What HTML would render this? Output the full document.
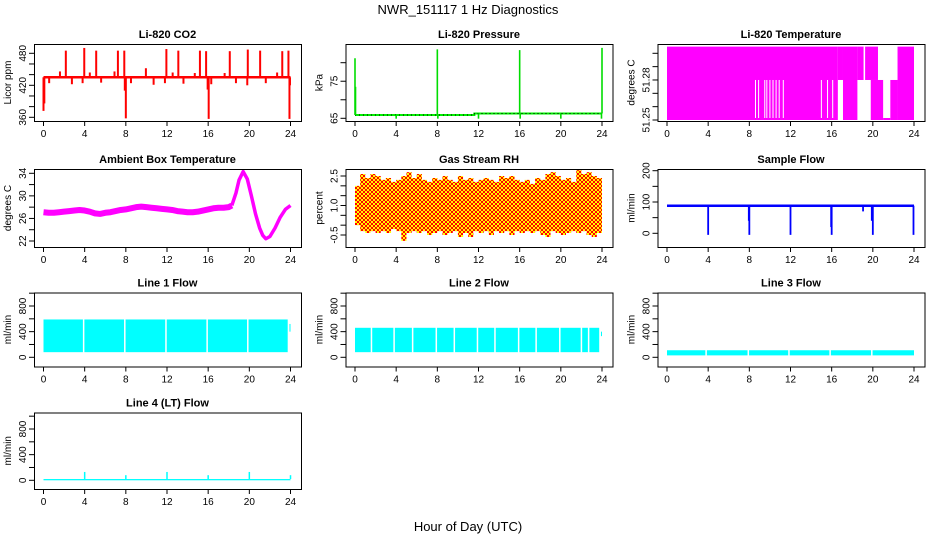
<!DOCTYPE html>
<html><head><meta charset="utf-8">
<style>
html,body{margin:0;padding:0;background:#fff;}
svg{display:block;font-family:"Liberation Sans",sans-serif;}
</style></head>
<body>
<svg id="fig" width="936" height="540" viewBox="0 0 936 540" xmlns="http://www.w3.org/2000/svg">
<defs>
<pattern id="rhpat" width="4" height="4" patternUnits="userSpaceOnUse">
<rect width="4" height="4" fill="#ffff00" shape-rendering="crispEdges"/>
<g fill="#ff0000" shape-rendering="crispEdges">
<rect x="0" y="0" width="1" height="1"/><rect x="3" y="0" width="1" height="1"/>
<rect x="1" y="1" width="1" height="1"/><rect x="2" y="1" width="1" height="1"/>
<rect x="1" y="2" width="1" height="1"/><rect x="2" y="2" width="1" height="1"/>
<rect x="0" y="3" width="1" height="1"/><rect x="3" y="3" width="1" height="1"/>
</g>
</pattern>
</defs>
<text x="468" y="14" text-anchor="middle" font-size="13">NWR_151117  1 Hz Diagnostics</text>
<text x="468" y="531" text-anchor="middle" font-size="13">Hour of Day (UTC)</text>
</svg>
<script>
// ---------- data ----------
const xTicks = [0,4,8,12,16,20,24];
const co2Base = 435;
const co2SpikeHours = [0,0.08,1.6,2.17,3.96,4.5,5.12,6.9,7.23,7.85,8.0,9.95,11.94,12.55,13.1,14.7,15.2,15.8,16.05,17.6,18.1,19.85,21.05,22.7,23.2,23.8,23.9,0.55,2.76,3.8,5.6,7.9,8.5,10.7,11.8,13.6,15.95,16.3,18.7,19.8,21.6,23.95];
const co2SpikeVals  = [372,386,446,485,490,444,485,446,485,485,358,452,488,444,485,443,485,484,357,443,484,487,485,444,484,485,357,424,422,424,425,410,424,421,424,423,412,422,424,420,424,420];
const presHours = [0,0.05,8.0,16.0,24.0,4.0,8.05,12.0,16.05,20.0,23.95];
const presVals  = [81.2,73.5,83.6,83.4,84.0,64.9,64.9,64.9,64.9,64.9,64.9];
const presLevelHours = [0,11.6,11.6,24];
const presLevelVals = [65.9,65.9,66.3,66.3];
const tempSegStart = [0,16.6,17.1,18.5,19.25,19.8,21.0,21.7,22.4];
const tempSegEnd   = [16.6,17.1,18.5,19.1,20.5,21.0,21.7,22.4,24];
const tempSegLo    = [51.25,51.28,51.25,51.28,51.28,51.25,51.25,51.25,51.25];
const tempSegHi    = [51.305,51.305,51.305,51.305,51.305,51.28,51.2515,51.28,51.305];
const tempGapHours = [8.6,8.9,9.5,9.7,10.0,10.3,10.6,10.9,11.3,15.0,15.6,16.1];
const ambHours = [0,0.5,1,1.5,2,2.5,3,3.5,4,4.5,5,5.5,6,6.5,7,7.5,8,8.5,9,9.5,10,10.5,11,11.5,12,12.5,13,13.5,14,14.5,15,15.5,16,16.5,17,17.5,18,18.3,18.7,19,19.4,19.8,20.2,20.6,21,21.3,21.6,22,22.5,23,23.5,24];
const ambVals  = [27.1,27.0,27.0,27.1,27.2,27.3,27.4,27.5,27.4,27.2,26.9,26.8,27.0,27.1,27.3,27.5,27.6,27.8,28.0,28.1,28.0,27.9,27.8,27.7,27.6,27.5,27.3,27.2,27.1,27.1,27.2,27.4,27.6,27.8,27.9,27.9,28.0,28.3,30.5,32.8,34.3,33.0,30.0,26.8,24.3,23.0,22.4,22.8,24.3,26.2,27.6,28.3];
const rhHours = [0,0.5,1,1.5,2,2.5,3,3.5,4,4.5,5,5.5,6,6.5,7,7.5,8,8.5,9,9.5,10,10.5,11,11.5,12,12.5,13,13.5,14,14.5,15,15.5,16,16.5,17,17.5,18,18.5,19,19.5,20,20.5,21,21.5,22,22.5,23,23.5,24];
const rhTop = [2.0,2.6,2.4,2.6,2.5,2.3,2.4,2.2,2.3,2.5,2.7,2.4,2.6,2.3,2.2,2.4,2.3,2.5,2.3,2.2,2.5,2.3,2.4,2.2,2.3,2.4,2.3,2.2,2.5,2.4,2.5,2.3,2.2,2.3,2.1,2.4,2.3,2.6,2.7,2.5,2.3,2.4,2.2,2.8,2.6,2.7,2.5,2.4,1.8];
const rhBot = [0.0,-0.3,-0.4,-0.3,-0.4,-0.3,-0.4,-0.2,-0.3,-0.8,-0.4,-0.3,-0.4,-0.3,-0.5,-0.4,-0.3,-0.5,-0.4,-0.3,-0.6,-0.4,-0.6,-0.3,-0.4,-0.3,-0.5,-0.3,-0.4,-0.3,-0.5,-0.3,-0.4,-0.3,-0.4,-0.3,-0.5,-0.6,-0.3,-0.4,-0.5,-0.4,-0.3,-0.4,-0.3,-0.5,-0.6,-0.4,0.1];
const sfLevel = 88;
const sfDipHours = [4.0,8.0,12.0,16.0,20.0,23.95,7.95,15.95,19.9,19.05];
const sfDipVals  = [-5,-5,-5,-5,-5,-5,40,20,40,70];
const l1Lo = 80, l1Hi = 590;
const l1Gaps = [3.9,7.9,11.9,15.9,19.85,23.8];
const l1EndLo = 400, l1EndHi = 520;
const l2Lo = 80, l2Hi = 460;
const l2Gaps = [1.6,3.8,5.6,7.9,9.65,11.9,13.6,15.9,17.6,19.9,22.0,22.7,23.8];
const l2EndLo = 330, l2EndHi = 400;
const l3Lo = 30, l3Hi = 110;
const l3Gaps = [3.8,7.9,11.85,15.85,19.9];
const l4Lo = 0, l4Hi = 20;
const l4SpikeHours = [4.0,8.0,12.0,16.0,20.0,24.0];
const l4SpikeVals  = [130,80,130,80,130,80];
const flowTicks = [0,200,400,600,800,1000];
const flowLabels = ["0","","400","","800",""];

// ---------- helpers ----------
const svg = document.getElementById('fig');
const NS = 'http://www.w3.org/2000/svg';
function mk(tag, attrs, parent){const e=document.createElementNS(NS,tag);for(const k in attrs)e.setAttribute(k,attrs[k]);(parent||svg).appendChild(e);return e;}
const colL = [34,345.5,657.5];
const rowT = [44,169,292.5,412.5];
const rowB = [121,247,366.5,489];
const W = 267;
function xmap(col){return h=>colL[col]+9.5+h*247/24;}
function lin(v0,p0,v1,p1){return v=>p0+(v-v0)*(p1-p0)/(v1-v0);}

function panel(name,col,row,title,ylab,ymap,ticks,labels){
  const g = mk('g',{});
  
  
  const L=colL[col],T=rowT[row],B=rowB[row],X=xmap(col);
  const t=mk('text',{x:L+W/2,y:T-6,'text-anchor':'middle','font-size':11,'font-weight':'bold'},g);
  t.textContent=title;
  
  
  const yl=mk('text',{x:0,y:0,'text-anchor':'middle','font-size':10,transform:`translate(${L-23},${(T+B)/2}) rotate(-90)`},g);
  yl.textContent=ylab;
  
  
  const ax=mk('g',{stroke:'#000','stroke-width':1},g);
  
  
  mk('line',{x1:X(0),x2:X(24),y1:B+0.5,y2:B+0.5},ax);
  xTicks.forEach(h=>{
    mk('line',{x1:X(h),x2:X(h),y1:B,y2:B+5},ax);
    const tx=mk('text',{x:X(h),y:B+16,'text-anchor':'middle','font-size':10,stroke:'none',fill:'#000'},g);
    tx.textContent=String(h);
    
    
  });
  ticks.forEach((v,i)=>{
    const y=ymap(v);
    mk('line',{x1:L-5,x2:L,y1:y,y2:y},ax);
    if(labels[i]){
      const ty=mk('text',{x:0,y:0,'text-anchor':'middle','font-size':10,stroke:'none',fill:'#000',transform:`translate(${L-8},${y}) rotate(-90)`},g);
      ty.textContent=labels[i];
      
      
    }
  });
  const data=mk('g',{},g);
  
  
  const box=mk('rect',{x:L+0.5,y:T+0.5,width:W,height:B-T,fill:'none',stroke:'#000','stroke-width':1},g);
  
  
  return {g:data,X,Y:ymap,T,B};
}
function vline(p,h,v0,v1,color,w){return mk('line',{x1:p.X(h),x2:p.X(h),y1:p.Y(v0),y2:p.Y(v1),stroke:color,'stroke-width':w},p.g);}
function band(p,h0,h1,lo,hi,color){const y0=p.Y(hi),y1=p.Y(lo);return mk('rect',{x:p.X(h0),y:Math.min(y0,y1),width:Math.max(0.5,p.X(h1)-p.X(h0)),height:Math.max(1,Math.abs(y1-y0)),fill:color},p.g);}

// CO2
{const p=panel('co2',0,0,'Li-820 CO2','Licor ppm',lin(360,117.3,480,53.3),[360,380,400,420,440,460,480],['360','','','420','','','480']);
 co2SpikeHours.forEach((h,i)=>{const e=vline(p,h,co2Base,co2SpikeVals[i],'#ff0000',2);});
 const b=mk('line',{x1:p.X(0),x2:p.X(24),y1:p.Y(co2Base),y2:p.Y(co2Base),stroke:'#ff0000','stroke-width':2.5},p.g);
 }
// Pressure
{const p=panel('pressure',1,0,'Li-820 Pressure','kPa',lin(65,118.3,80,62.7),[65,70,75,80],['65','','75','']);
 const pts=presLevelHours.map((h,i)=>p.X(h)+','+p.Y(presLevelVals[i])).join(' ');
 const pl=mk('polyline',{points:pts,fill:'none',stroke:'#00ee00','stroke-width':2},p.g);
 
 const pd=mk('polyline',{points:pts,fill:'none',stroke:'#000','stroke-width':1,'stroke-dasharray':'1 3'},p.g);
 
 presHours.forEach((h,i)=>{const lv=h<11.6?65.9:66.3;const e=vline(p,h,lv,presVals[i],'#00dd00',1.6);});}
// Li-820 temperature
{const p=panel('li-temp',2,0,'Li-820 Temperature','degrees C',lin(51.25,120,51.30,53.3),[51.25,51.26,51.27,51.28,51.29,51.30],['51.25','','','51.28','','']);
 tempSegStart.forEach((s,i)=>{const e=band(p,s,tempSegEnd[i],tempSegLo[i],tempSegHi[i],'#ff00ff');});
 tempGapHours.forEach(h=>{const e=vline(p,h,51.2515,51.28,'#ffffff',1);});}
// Ambient
{const p=panel('ambient',0,1,'Ambient Box Temperature','degrees C',lin(22,241,34,173.3),[22,24,26,28,30,32,34],['22','','26','','30','','34']);
 const n1=ambHours.findIndex(h=>h>=18.3);
 const pts1=ambHours.slice(0,n1+1).map((h,i)=>p.X(h)+','+p.Y(ambVals[i])).join(' ');
 const pts2=ambHours.slice(n1).map((h,i)=>p.X(h)+','+p.Y(ambVals[i+n1])).join(' ');
 const e=mk('polyline',{points:pts1,fill:'none',stroke:'#ff00ff','stroke-width':6,'stroke-linejoin':'round'},p.g);
 
 const e2=mk('polyline',{points:pts2,fill:'none',stroke:'#ff00ff','stroke-width':3.5,'stroke-linejoin':'round'},p.g);
 }
// RH
{const p=panel('rh',1,1,'Gas Stream RH','percent',lin(-0.5,235,2.5,176),[-0.5,0,0.5,1,1.5,2,2.5],['-0.5','','','1.0','','','2.5']);
 let top=[],bot=[];
 rhHours.forEach((h,i)=>{const h1=Math.min(24,h+0.5);top.push(p.X(h)+','+p.Y(rhTop[i]));top.push(p.X(h1)+','+p.Y(rhTop[i]));bot.push(p.X(h)+','+p.Y(rhBot[i]));bot.push(p.X(h1)+','+p.Y(rhBot[i]));});
 const e=mk('polygon',{points:top.concat(bot.reverse()).join(' '),fill:'url(#rhpat)'},p.g);
 }
// Sample flow
{const p=panel('sample-flow',2,1,'Sample Flow','ml/min',lin(0,233.3,200,170.7),[0,50,100,150,200],['0','','100','','200']);
 const e=band(p,0,24,sfLevel-4,sfLevel+4,'#0000ff');
 sfDipHours.forEach((h,i)=>{const d=vline(p,h,sfLevel,sfDipVals[i],'#0000ff',1.8);});}
// Line flows
function flowPanel(name,col,row,title,lo,hi,gaps,endLo,endHi,ymap){
  const p=panel(name,col,row,title,'ml/min',ymap,flowTicks,flowLabels);
  const e=band(p,0,24,lo,hi,'#00ffff');
  gaps.forEach(h=>{const g=vline(p,h,lo-5,hi+5,'#ffffff',1.5);});
  if(endLo!=null){const g=band(p,23.85,24,lo-5,hi+5,'#ffffff');const en=band(p,23.9,24,endLo,endHi,'#00ffff');}
  return p;
}
flowPanel('line1-flow',0,2,'Line 1 Flow',l1Lo,l1Hi,l1Gaps,l1EndLo,l1EndHi,lin(0,357.3,800,306));
flowPanel('line2-flow',1,2,'Line 2 Flow',l2Lo,l2Hi,l2Gaps,l2EndLo,l2EndHi,lin(0,357.3,800,306));
flowPanel('line3-flow',2,2,'Line 3 Flow',l3Lo,l3Hi,l3Gaps,null,null,lin(0,357.3,800,306));
{const p=flowPanel('line4-flow',0,3,'Line 4 (LT) Flow',l4Lo,l4Hi,[],null,null,lin(0,480.3,800,429));
 l4SpikeHours.forEach((h,i)=>{const e=vline(p,h,l4Hi,l4SpikeVals[i],'#00ffff',1.5);});}
</script>
</body></html>
